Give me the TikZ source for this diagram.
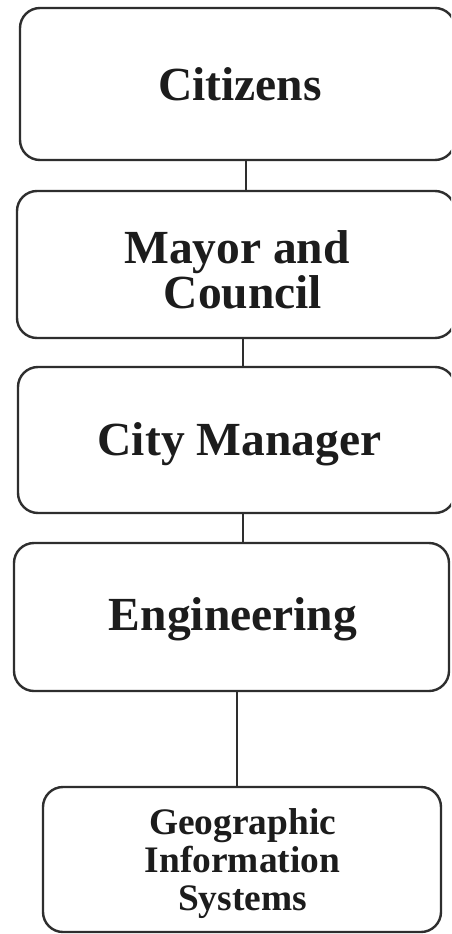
\documentclass[tikz,border=0pt]{standalone}
\usepackage{fontspec}
\setmainfont{Liberation Serif}
\definecolor{ink}{HTML}{2E2E2E}
\definecolor{txt}{HTML}{1C1C1C}
\tikzset{
  orgbox/.style={draw=ink, line width=2.4pt, rounded corners=20pt, rectangle, inner sep=0pt},
  bigtext/.style={text=txt, inner sep=0pt, font=\bfseries\fontsize{47.5}{40}\selectfont, align=center},
  smalltext/.style={text=txt, inner sep=0pt, font=\bfseries\fontsize{37.4}{38}\selectfont, align=center},
  link/.style={draw=ink, line width=2.4pt}
}
\begin{document}
\begin{tikzpicture}[x=1pt,y=-1pt]
\useasboundingbox (0,0) rectangle (451,934);
\clip (0,0) rectangle (451,934);
\fill[white] (0,0) rectangle (451,934);
% boxes
\node[orgbox, minimum width=435pt, minimum height=152pt] (b1) at (237.5,84) {};
\node[orgbox, minimum width=438pt, minimum height=147pt] (b2) at (236,264.5) {};
\node[orgbox, minimum width=437pt, minimum height=146pt] (b3) at (236.5,440) {};
\node[orgbox, minimum width=435pt, minimum height=148pt] (b4) at (231.5,617) {};
\node[orgbox, minimum width=398pt, minimum height=145pt] (b5) at (242,859.5) {};
% texts
\node[bigtext, anchor=base] (t1) at (240,100) {Citizens};
\node[bigtext, anchor=north] (t2) at (237,230.8) {Mayor and\\\hspace*{0.25em}Council};
\node[bigtext, anchor=base] (t3) at (239.5,455) {City Manager};
\node[bigtext, anchor=base] (t4) at (233,630) {Engineering};
\node[smalltext, anchor=north] (t5) at (242.5,808.2) {Geographic\\Information\\Systems};
% connector columns
\coordinate (c12) at (246,0);
\coordinate (c23) at (243,0);
\coordinate (c34) at (243,0);
\coordinate (c45) at (237,0);
\draw[link] (b1.south -| c12) -- (b2.north -| c12);
\draw[link] (b2.south -| c23) -- (b3.north -| c23);
\draw[link] (b3.south -| c34) -- (b4.north -| c34);
\draw[link] (b4.south -| c45) -- (b5.north -| c45);
\end{tikzpicture}
\end{document}
